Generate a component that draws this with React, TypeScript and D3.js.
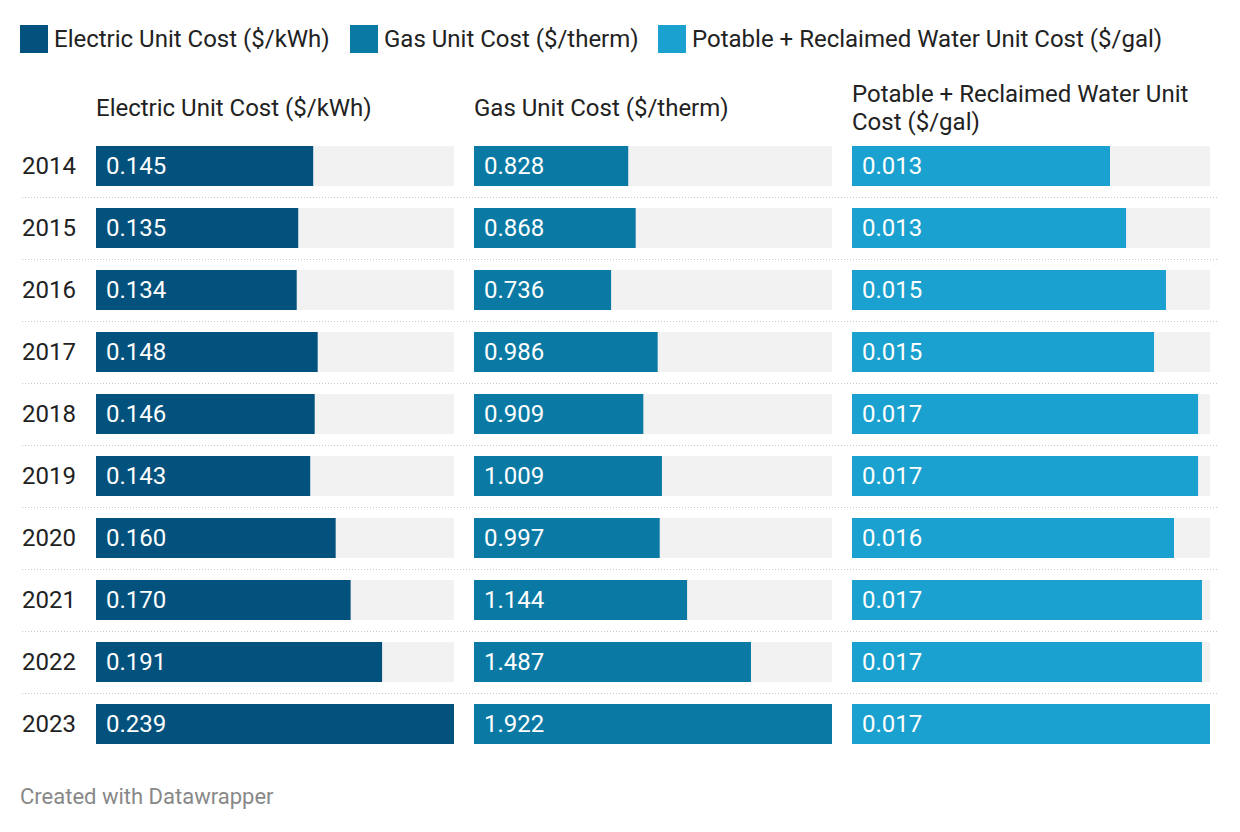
import { useEffect, useRef } from "react";
import * as d3 from "d3";

const years = ["2014", "2015", "2016", "2017", "2018", "2019", "2020", "2021", "2022", "2023"];
const electric = [0.145, 0.135, 0.134, 0.148, 0.146, 0.143, 0.16, 0.17, 0.191, 0.239];
const gas = [0.828, 0.868, 0.736, 0.986, 0.909, 1.009, 0.997, 1.144, 1.487, 1.922];
const water = [0.01254, 0.01332, 0.01526, 0.01468, 0.01682, 0.01682, 0.01565, 0.01701, 0.01701, 0.0174];

const series = [
  { name: "Electric Unit Cost ($/kWh)", header: ["Electric Unit Cost ($/kWh)"], values: electric, color: "#03527d" },
  { name: "Gas Unit Cost ($/therm)", header: ["Gas Unit Cost ($/therm)"], values: gas, color: "#0a7aa5" },
  {
    name: "Potable + Reclaimed Water Unit Cost ($/gal)",
    header: ["Potable + Reclaimed Water Unit", "Cost ($/gal)"],
    values: water,
    color: "#1aa1cf",
  },
];

const legendX = [20, 350, 658];
const font = "Roboto, 'Noto Sans', sans-serif";

const App = () => {
  const ref = useRef<SVGSVGElement | null>(null);

  useEffect(() => {
    document.body.style.margin = "0";
    const width = 1240;
    const height = 832;
    const colLeft = [96, 474, 852];
    const colWidth = 358;
    const fs = 24;

    const svg = d3.select(ref.current);
    svg.selectAll("*").remove();
    svg.attr("width", width).attr("height", height).style("font-family", font);

    svg.append("rect").attr("width", width).attr("height", height).attr("fill", "#fff");

    // legend
    const legend = svg.append("g");
    series.forEach((s, i) => {
      legend
        .append("rect")
        .attr("x", legendX[i])
        .attr("y", 25)
        .attr("width", 28)
        .attr("height", 28)
        .attr("fill", s.color);
      legend
        .append("text")
        .attr("x", legendX[i] + 34)
        .attr("y", 47)
        .attr("font-size", fs)
        .attr("fill", "#222")
        .text(s.name);
    });

    const y = d3
      .scaleBand<string>()
      .domain(years)
      .range([146, 146 + 62 * 9 + 40])
      .paddingInner(22 / 62)
      .paddingOuter(0);

    // separators
    svg
      .append("g")
      .selectAll("line")
      .data(years.slice(0, -1))
      .join("line")
      .attr("x1", 22)
      .attr("x2", 1218)
      .attr("y1", (d) => (y(d) as number) + y.bandwidth() + 11.5)
      .attr("y2", (d) => (y(d) as number) + y.bandwidth() + 11.5)
      .attr("stroke", "#c8c8c8")
      .attr("stroke-width", 1)
      .attr("stroke-dasharray", "1,2");

    // year labels
    svg
      .append("g")
      .selectAll("text")
      .data(years)
      .join("text")
      .attr("x", 22)
      .attr("y", (d) => (y(d) as number) + y.bandwidth() / 2)
      .attr("dy", "0.35em")
      .attr("font-size", fs)
      .attr("fill", "#222")
      .text((d) => d);

    series.forEach((s, i) => {
      const x = d3
        .scaleLinear()
        .domain([0, d3.max(s.values) as number])
        .range([colLeft[i], colLeft[i] + colWidth]);

      const g = svg.append("g");

      const header = g
        .append("text")
        .attr("x", colLeft[i])
        .attr("font-size", fs)
        .attr("fill", "#222");
      const lines = s.header;
      lines.forEach((t, j) => {
        header
          .append("tspan")
          .attr("x", colLeft[i])
          .attr("y", lines.length === 1 ? 116 : 102 + j * 28)
          .text(t);
      });

      g.selectAll("rect.bg")
        .data(years)
        .join("rect")
        .attr("class", "bg")
        .attr("x", x(0))
        .attr("y", (d) => y(d) as number)
        .attr("width", x.range()[1] - x(0))
        .attr("height", y.bandwidth())
        .attr("fill", "#f2f2f2");

      g.selectAll("rect.bar")
        .data(s.values)
        .join("rect")
        .attr("class", "bar")
        .attr("x", x(0))
        .attr("y", (_, k) => y(years[k]) as number)
        .attr("width", (d) => x(d) - x(0))
        .attr("height", y.bandwidth())
        .attr("fill", s.color);

      g.selectAll("text.val")
        .data(s.values)
        .join("text")
        .attr("class", "val")
        .attr("x", x(0) + 10)
        .attr("y", (_, k) => (y(years[k]) as number) + y.bandwidth() / 2)
        .attr("dy", "0.35em")
        .attr("font-size", fs)
        .attr("fill", "#fff")
        .text((d) => d3.format(".3f")(d));
    });

    svg
      .append("text")
      .attr("x", 20)
      .attr("y", 804)
      .attr("font-size", 22)
      .attr("fill", "#888")
      .text("Created with Datawrapper");
  }, []);

  return <svg ref={ref}></svg>;
};

export default App;
